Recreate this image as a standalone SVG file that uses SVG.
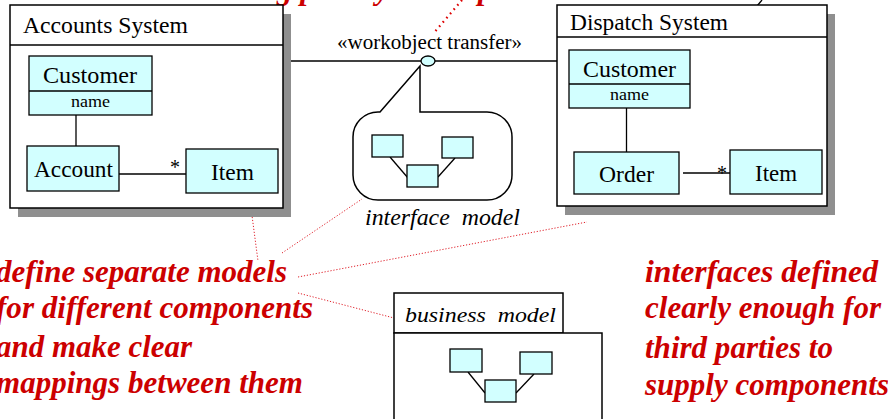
<svg xmlns="http://www.w3.org/2000/svg" width="888" height="419" viewBox="0 0 888 419">
<style>
.pkg{fill:#fff;stroke:#000;stroke-width:1.5}
.shadow{fill:#8f8f8f}
.cls{fill:#d2ffff;stroke:#000;stroke-width:1.3}
.ln{fill:none;stroke:#000;stroke-width:1.3}
.t{font-family:'Liberation Serif','DejaVu Serif','Times New Roman',serif;fill:#000}
.it{font-family:'Liberation Serif','DejaVu Serif','Times New Roman',serif;font-style:italic;fill:#000;white-space:pre}
.red{font-family:'Liberation Serif','DejaVu Serif','Times New Roman',serif;font-style:italic;font-weight:bold;fill:#cc0000;font-size:31px}
.lead{fill:none;stroke:#e0202a;stroke-width:1;stroke-dasharray:1.2 1.8}
</style>
<rect width="888" height="419" fill="#fff"/>

<g id="top-note">
<text class="red" y="-1"><tspan x="277">g p</tspan><tspan x="376">y</tspan><tspan x="478">p</tspan></text>
</g>

<g id="connectors">
<line class="ln" x1="283" y1="61" x2="557" y2="61"/>
<line class="ln" x1="757" y1="6" x2="762" y2="0"/>
<line class="lead" x1="462" y1="0" x2="433" y2="34" style="stroke:#dd0000;stroke-width:2.2;stroke-dasharray:1.6 4"/>
<line class="lead" x1="251" y1="208" x2="258" y2="261"/>
<line class="lead" x1="282" y1="253" x2="362" y2="199"/>
<line class="lead" x1="298" y1="277" x2="587" y2="222"/>
<line class="lead" x1="298" y1="293" x2="394" y2="318"/>
</g>

<g id="accounts-system">
<rect class="shadow" x="18" y="14" width="273" height="203"/>
<rect class="pkg" x="10" y="5" width="273" height="203"/>
<line class="pkg" x1="10" y1="45" x2="283" y2="45"/>
<text class="t" x="23" y="33" font-size="23" textLength="165" lengthAdjust="spacingAndGlyphs">Accounts System</text>
<g id="acc-customer">
<rect class="cls" x="29" y="56" width="123" height="59"/>
<line class="ln" x1="29" y1="91" x2="152" y2="91"/>
<text class="t" x="43" y="83" font-size="23" textLength="94" lengthAdjust="spacingAndGlyphs">Customer</text>
<text class="t" x="71" y="107" font-size="17.5" textLength="39" lengthAdjust="spacingAndGlyphs">name</text>
</g>
<g id="acc-account">
<rect class="cls" x="27" y="146" width="92" height="45"/>
<text class="t" x="34" y="177" font-size="23" textLength="79" lengthAdjust="spacingAndGlyphs">Account</text>
</g>
<g id="acc-item">
<rect class="cls" x="186" y="149" width="92" height="44"/>
<text class="t" x="211" y="180" font-size="23" textLength="43" lengthAdjust="spacingAndGlyphs">Item</text>
</g>
<line class="ln" x1="76" y1="115" x2="76" y2="146"/>
<line class="ln" x1="119" y1="174" x2="186" y2="174"/>
<text class="t" x="175" y="174" font-size="20" text-anchor="middle">*</text>
</g>

<g id="dispatch-system">
<rect class="shadow" x="565" y="14" width="270" height="201"/>
<rect class="pkg" x="557" y="5" width="270" height="201"/>
<line class="pkg" x1="557" y1="37" x2="827" y2="37"/>
<text class="t" x="570" y="30" font-size="23" textLength="158" lengthAdjust="spacingAndGlyphs">Dispatch System</text>
<g id="dis-customer">
<rect class="cls" x="569" y="50" width="121" height="58"/>
<line class="ln" x1="569" y1="84" x2="690" y2="84"/>
<text class="t" x="583" y="77" font-size="23" textLength="93" lengthAdjust="spacingAndGlyphs">Customer</text>
<text class="t" x="610" y="100" font-size="17.5" textLength="39" lengthAdjust="spacingAndGlyphs">name</text>
</g>
<g id="dis-order">
<rect class="cls" x="574" y="152" width="105" height="42"/>
<text class="t" x="599" y="182" font-size="23" textLength="55" lengthAdjust="spacingAndGlyphs">Order</text>
</g>
<g id="dis-item">
<rect class="cls" x="730" y="150" width="92" height="44"/>
<text class="t" x="755" y="181" font-size="23" textLength="42" lengthAdjust="spacingAndGlyphs">Item</text>
</g>
<line class="ln" x1="626.5" y1="108" x2="626.5" y2="152"/>
<line class="ln" x1="683" y1="173" x2="730" y2="173"/>
<text class="t" x="722" y="180" font-size="20" text-anchor="middle">*</text>
</g>

<g id="workobject-transfer">
<text class="t" x="337" y="49" font-size="20.5" textLength="185" lengthAdjust="spacingAndGlyphs">«workobject transfer»</text>
<ellipse cx="428" cy="61" rx="7" ry="5" fill="#d2ffff" stroke="#000" stroke-width="1.3"/>
</g>

<g id="interface-model">
<path class="ln" d="M380,112 L420,66 L420,112 L487,112 A25,25 0 0 1 512,137 L512,175 A25,25 0 0 1 487,200 L378,200 A25,25 0 0 1 353,175 L353,137 A25,25 0 0 1 378,112 Z" style="fill:#fff;stroke-width:1.5"/>
<line class="ln" x1="390" y1="157" x2="408" y2="178"/>
<line class="ln" x1="455" y1="158" x2="438" y2="177"/>
<rect class="cls" x="372" y="135" width="31" height="22"/>
<rect class="cls" x="442" y="137" width="31" height="21"/>
<rect class="cls" x="407" y="165" width="31" height="22"/>
<text class="it" x="365" y="225" font-size="22.5" textLength="155" lengthAdjust="spacingAndGlyphs">interface  model</text>
</g>

<g id="business-model">
<rect class="pkg" x="394" y="293" width="169" height="40"/>
<rect class="pkg" x="394" y="333" width="208" height="100"/>
<text class="it" x="405" y="322" font-size="21.5" textLength="151" lengthAdjust="spacingAndGlyphs">business  model</text>
<line class="ln" x1="468" y1="372" x2="485" y2="393"/>
<line class="ln" x1="534" y1="374" x2="516" y2="393"/>
<rect class="cls" x="450" y="349" width="32" height="23"/>
<rect class="cls" x="520" y="352" width="32" height="22"/>
<rect class="cls" x="485" y="380" width="31" height="22"/>
</g>

<g id="note-left">
<text class="red" x="-4" y="282" textLength="291" lengthAdjust="spacingAndGlyphs">define separate models</text>
<text class="red" x="-4" y="318" textLength="317" lengthAdjust="spacingAndGlyphs">for different components</text>
<text class="red" x="-4" y="357" textLength="196" lengthAdjust="spacingAndGlyphs">and make clear</text>
<text class="red" x="-4" y="393" textLength="307" lengthAdjust="spacingAndGlyphs">mappings between them</text>
</g>

<g id="note-right">
<text class="red" x="645" y="282" textLength="233" lengthAdjust="spacingAndGlyphs">interfaces defined</text>
<text class="red" x="645" y="318" textLength="236" lengthAdjust="spacingAndGlyphs">clearly enough for</text>
<text class="red" x="645" y="358" textLength="188" lengthAdjust="spacingAndGlyphs">third parties to</text>
<text class="red" x="645" y="395" textLength="244" lengthAdjust="spacingAndGlyphs">supply components</text>
</g>
</svg>
